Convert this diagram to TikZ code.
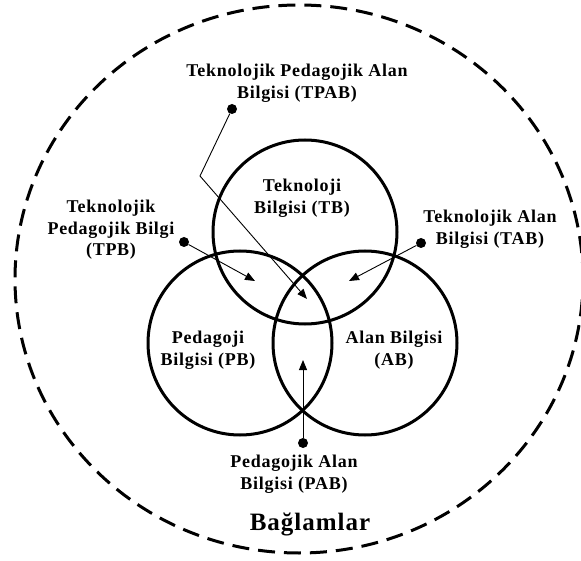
\documentclass[tikz,border=0pt]{standalone}
\usepackage{fontspec}
\setmainfont{Liberation Serif}[LetterSpace=4]
\usetikzlibrary{arrows.meta}
\tikzset{
  area/.style={circle,draw,line width=3pt,minimum size=184pt,inner sep=0pt},
  lbl/.style={align=center,font=\fontsize{18}{21.5}\selectfont\bfseries},
  pindot/.style={circle,fill,inner sep=0pt,minimum size=10pt},
  pointer/.style={line width=0.9pt,-{Triangle[length=10pt,width=8pt]}}
}
\begin{document}
\begin{tikzpicture}[x=1pt,y=-1pt]
\useasboundingbox (0,0) rectangle (581,561);
% context
\draw[line width=3pt,dash pattern=on 17pt off 9pt] (299,279) ellipse [x radius=284pt,y radius=274pt];
\node[font=\fontsize{25}{30}\selectfont\bfseries] (ctx) at (310,524) {Bağlamlar};
% the three areas
\node[area] (T) at (305,232) {};
\node[area] (P) at (240,343) {};
\node[area] (A) at (365,343) {};
\node[lbl] (tb) at (302,198) {Teknoloji\\Bilgisi (TB)};
\node[lbl] (pb) at (208,350) {Pedagoji\\Bilgisi (PB)};
\node[lbl] (ab) at (394,350) {Alan Bilgisi\\(AB)};
% overlaps
\node[lbl] (tpab) at (297,83) {Teknolojik Pedagojik Alan\\Bilgisi (TPAB)};
\node[lbl] (tpb) at (111,230) {Teknolojik\\Pedagojik Bilgi\\(TPB)};
\node[lbl] (tab) at (490,229) {Teknolojik Alan\\Bilgisi (TAB)};
\node[lbl] (pab) at (294,474) {Pedagojik Alan\\Bilgisi (PAB)};
\node[pindot] (tpabdot) at (232,109) {};
\node[pindot] (tpbdot) at (184,242) {};
\node[pindot] (tabdot) at (421,243) {};
\node[pindot] (pabdot) at (303,443) {};
\coordinate (tpabbend) at (200,176);
\coordinate (tpabtip) at (307,299);
\coordinate (tpbtip) at (255,281);
\coordinate (tabtip) at (349,281);
\coordinate (pabtip) at (303,360);
\foreach \d/\t in {tpbdot/tpbtip,tabdot/tabtip,pabdot/pabtip}
  \draw[pointer] (\d) -- (\t);
\draw[pointer] (tpabdot) -- (tpabbend) -- (tpabtip);
\end{tikzpicture}
\end{document}
